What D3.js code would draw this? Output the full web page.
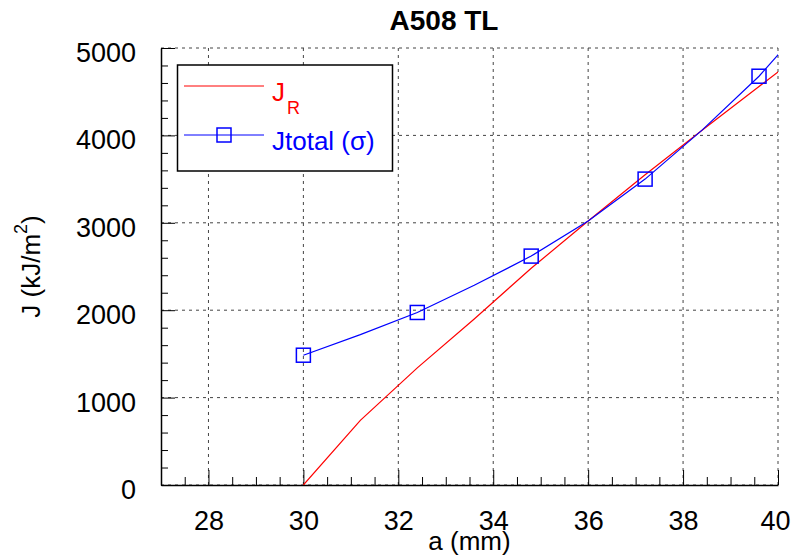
<!DOCTYPE html>
<html>
<head>
<meta charset="utf-8">
<script src="https://cdn.jsdelivr.net/npm/d3@7"></script>
<style>
    body { margin: 0; background: #fff; }
    text { font-family: "Liberation Sans", Arial, sans-serif; }
</style>
</head>
<body>
<svg id="canvas" width="791" height="559"></svg>
<script>
// curve points (mm, kJ/m2)
let crackLength = [30, 31.2, 32.4, 33.6, 34.8, 36.0, 37.2, 38.4, 39.6, 40.8]
let jR = [0, 740, 1340, 1900, 2480, 3020, 3550, 4060, 4560, 5060]
let jTotal = [1485, 1720, 1974, 2285, 2619, 3020, 3500, 4060, 4677, 5410]

// points drawn with a square marker
let markerLength = [30, 32.4, 34.8, 37.2, 39.6]
let markerJ = [1485, 1974, 2619, 3500, 4677]

let xMajorTicks = [28, 30, 32, 34, 36, 38, 40]
let yMajorTicks = [0, 1000, 2000, 3000, 4000, 5000]

let canvas = d3.select('#canvas')

let plotLeft = 161, plotRight = 778, plotTop = 48, plotBottom = 485

let xScale = d3.scaleLinear()
               .domain([27, 40])
               .range([plotLeft, plotRight])

let yScale = d3.scaleLinear()
               .domain([0, 5000])
               .range([plotBottom, plotTop])

let drawChart = () => {
    // grid
    canvas.append('g')
          .selectAll('line')
          .data(xMajorTicks)
          .enter()
          .append('line')
          .attr('x1', (d) => xScale(d))
          .attr('x2', (d) => xScale(d))
          .attr('y1', plotTop)
          .attr('y2', plotBottom)
          .attr('stroke', '#444')
          .attr('stroke-dasharray', '3,4')

    canvas.append('g')
          .selectAll('line')
          .data(yMajorTicks)
          .enter()
          .append('line')
          .attr('x1', plotLeft)
          .attr('x2', plotRight)
          .attr('y1', (d) => yScale(d))
          .attr('y2', (d) => yScale(d))
          .attr('stroke', '#444')
          .attr('stroke-dasharray', '3,4')

    // minor ticks
    let xMinor = d3.range(27.5, 40.01, 0.5).filter((v) => xMajorTicks.indexOf(v) < 0)
    let yMinor = d3.range(200, 5000, 200).filter((v) => yMajorTicks.indexOf(v) < 0)

    canvas.append('g')
          .attr('transform', 'translate(0,' + plotBottom + ')')
          .call(d3.axisBottom(xScale).tickValues(xMinor).tickSize(-8).tickFormat(''))
          .call((g) => g.select('.domain').remove())

    canvas.append('g')
          .attr('transform', 'translate(' + plotLeft + ',0)')
          .call(d3.axisLeft(yScale).tickValues(yMinor).tickSize(-7).tickFormat(''))
          .call((g) => g.select('.domain').remove())

    // major ticks + labels
    let xAxis = canvas.append('g')
                      .attr('transform', 'translate(0,' + plotBottom + ')')
                      .call(d3.axisBottom(xScale).tickValues(xMajorTicks).tickSize(-15).tickSizeOuter(0).tickPadding(26).tickFormat(d3.format('d')))
    xAxis.selectAll('text')
         .attr('font-size', 27)
         .attr('font-family', '"Liberation Sans", Arial, sans-serif')
         .attr('fill', '#000')
         .attr('dx', (d) => d === 40 ? -3 : 0)

    let yAxis = canvas.append('g')
                      .attr('transform', 'translate(' + plotLeft + ',0)')
                      .call(d3.axisLeft(yScale).tickValues(yMajorTicks).tickSize(-14).tickSizeOuter(0).tickPadding(25).tickFormat(d3.format('d')))
    yAxis.selectAll('text')
         .attr('font-size', 27)
         .attr('dy', '0.5em')
         .attr('font-family', '"Liberation Sans", Arial, sans-serif')
         .attr('fill', '#000')

    canvas.selectAll('.domain')
          .attr('stroke', '#000')
          .attr('stroke-width', 1.5)

    // curves
    canvas.append('clipPath')
          .attr('id', 'plotClip')
          .append('rect')
          .attr('x', plotLeft)
          .attr('y', plotTop)
          .attr('width', plotRight - plotLeft)
          .attr('height', plotBottom - plotTop)

    let line = d3.line()
                 .x((d) => xScale(d[0]))
                 .y((d) => yScale(d[1]))

    let redPoints = crackLength.map((a, i) => [a, jR[i]])
    let bluePoints = crackLength.map((a, i) => [a, jTotal[i]])

    canvas.append('path')
          .attr('d', line(redPoints))
          .attr('fill', 'none')
          .attr('stroke', '#ff0000')
          .attr('stroke-width', 1.2)
          .attr('clip-path', 'url(#plotClip)')

    canvas.append('path')
          .attr('d', line(bluePoints))
          .attr('fill', 'none')
          .attr('stroke', '#0000ff')
          .attr('stroke-width', 1.2)
          .attr('clip-path', 'url(#plotClip)')

    canvas.append('g')
          .selectAll('rect')
          .data(markerLength)
          .enter()
          .append('rect')
          .attr('x', (d) => xScale(d) - 7)
          .attr('y', (d, i) => yScale(markerJ[i]) - 7)
          .attr('width', 14)
          .attr('height', 14)
          .attr('fill', 'none')
          .attr('stroke', '#0000ff')
          .attr('stroke-width', 1.5)

    // title and axis titles
    canvas.append('text')
          .text('A508 TL')
          .attr('x', 444)
          .attr('y', 30)
          .attr('text-anchor', 'middle')
          .attr('font-size', 28)
          .attr('font-weight', 'bold')

    canvas.append('text')
          .text('a (mm)')
          .attr('x', (plotLeft + plotRight) / 2)
          .attr('y', 550)
          .attr('text-anchor', 'middle')
          .attr('font-size', 26)

    let yTitle = canvas.append('text')
                       .attr('transform', 'translate(40,' + (plotTop + plotBottom) / 2 + ') rotate(-90)')
                       .attr('text-anchor', 'middle')
                       .attr('font-size', 26)
    yTitle.append('tspan').text('J (kJ/m')
    yTitle.append('tspan').text('2').attr('font-size', 18).attr('dy', -13)
    yTitle.append('tspan').text(')').attr('dy', 13)

    // legend
    let legend = canvas.append('g')
    legend.append('rect')
          .attr('x', 177.5)
          .attr('y', 65)
          .attr('width', 215)
          .attr('height', 106)
          .attr('fill', '#fff')
          .attr('stroke', '#000')
          .attr('stroke-width', 1.5)

    legend.append('line')
          .attr('x1', 184).attr('x2', 264)
          .attr('y1', 86).attr('y2', 86)
          .attr('stroke', '#ff0000')
    let jrLabel = legend.append('text')
                        .attr('x', 272)
                        .attr('y', 101)
                        .attr('fill', '#ff0000')
                        .attr('font-size', 26)
    jrLabel.append('tspan').text('J')
    jrLabel.append('tspan').text('R').attr('font-size', 18).attr('dy', 13).attr('dx', 2)

    legend.append('line')
          .attr('x1', 184).attr('x2', 264)
          .attr('y1', 135).attr('y2', 135)
          .attr('stroke', '#0000ff')
    legend.append('rect')
          .attr('x', 217).attr('y', 128)
          .attr('width', 14).attr('height', 14)
          .attr('fill', 'none')
          .attr('stroke', '#0000ff')
          .attr('stroke-width', 1.5)
    legend.append('text')
          .text('Jtotal (σ)')
          .attr('x', 272)
          .attr('y', 150)
          .attr('fill', '#0000ff')
          .attr('font-size', 26)
}

drawChart()
</script>
</body>
</html>
